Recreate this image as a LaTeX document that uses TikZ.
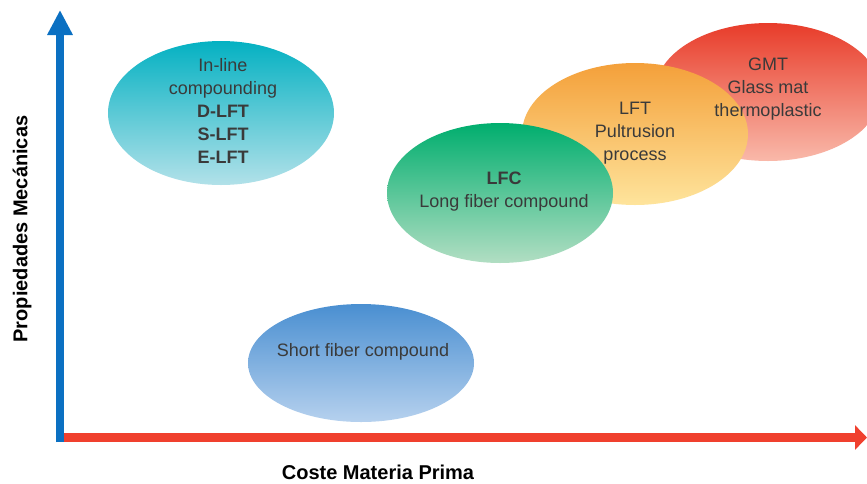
\documentclass[tikz,border=0pt]{standalone}
\usepackage{fontspec}
\setmainfont{Liberation Sans}
\usetikzlibrary{shapes.geometric,arrows.meta}
\definecolor{axblue}{HTML}{0B70C2}
\definecolor{axred}{HTML}{F0402E}
\definecolor{txt}{HTML}{3A3A3A}
\definecolor{tealT}{HTML}{04B1C2}
\definecolor{tealM}{HTML}{2ABBCA}
\definecolor{tealB}{HTML}{B2E1E9}
\definecolor{bluT}{HTML}{4A8FD1}
\definecolor{bluB}{HTML}{B6D1EE}
\definecolor{grnT}{HTML}{00AE6E}
\definecolor{grnB}{HTML}{B2DEC3}
\definecolor{orgT}{HTML}{F4A03A}
\definecolor{orgB}{HTML}{FEE49C}
\definecolor{redT}{HTML}{E83C2A}
\definecolor{redB}{HTML}{F9B9AA}
\begin{document}
\begin{tikzpicture}[x=1pt,y=-1pt,
  blob/.style={ellipse, inner sep=0pt, minimum width=226pt, minimum height=142pt, draw=none},
  lbl/.style={align=center, text=txt, font=\fontsize{18}{23}\selectfont},
  axlbl/.style={font=\fontsize{20}{24}\selectfont\bfseries, text=black}]
\clip (0,0) rectangle (867,483);
\fill[white] (0,0) rectangle (867,483);
% ellipses
\node[blob, minimum height=138pt, top color=redT, bottom color=redB] (gmt) at (768,92) {};
\node[blob, top color=orgT, bottom color=orgB] (lft) at (635,134) {};
\node[blob, minimum height=140pt, top color=grnT, bottom color=grnB] (lfc) at (500,193) {};
\node[blob, minimum height=144pt, top color=tealT, middle color=tealM, bottom color=tealB] (inl) at (221,113) {};
\node[blob, minimum height=118pt, top color=bluT, bottom color=bluB] (sfc) at (361,363) {};
% texts
\node[lbl] (tgmt) at (768,89) {GMT\\Glass mat\\thermoplastic};
\node[lbl] (tlft) at (635,133) {LFT\\Pultrusion\\process};
\node[lbl] (tlfc) at (504,192) {\textbf{LFC}\\Long fiber compound};
\node[lbl] (tinl) at (223,111) {In-line\\compounding\\\textbf{D-LFT}\\\textbf{S-LFT}\\\textbf{E-LFT}};
\node[lbl] (tsfc) at (363,352) {Short fiber compound};
% axes
\coordinate (o) at (60,442);
\coordinate (xs) at (64,437.5);
\coordinate (xe) at (867,437.5);
\coordinate (ye) at (60,10);
\draw[line width=9pt, axred, -{Triangle[width=24pt,length=12pt]}] (xs) -- (xe);
\draw[line width=8pt, axblue, -{Triangle[width=24pt,length=25pt]}] (o) -- (ye);
\node[axlbl, rotate=90] (ylab) at (22,229) {Propiedades Mecánicas};
\node[axlbl] (xlab) at (378,472) {Coste Materia Prima};
\end{tikzpicture}
\end{document}
